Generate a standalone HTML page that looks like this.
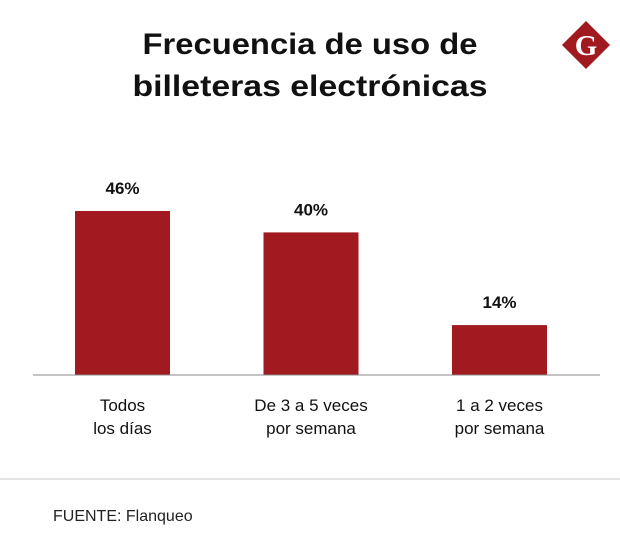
<!DOCTYPE html>
<html><head><meta charset="utf-8"><style>
body{margin:0;background:#fff;width:620px;height:551px;overflow:hidden;font-family:"Liberation Sans",sans-serif}
</style></head><body>
<svg width="620" height="551">
<text x="310" y="54" text-anchor="middle" font-size="30" font-weight="bold" fill="#111" textLength="335" lengthAdjust="spacingAndGlyphs">Frecuencia de uso de</text>
<text x="310" y="96" text-anchor="middle" font-size="30" font-weight="bold" fill="#111" textLength="355" lengthAdjust="spacingAndGlyphs">billeteras electrónicas</text>
<g>
<rect x="569" y="28" width="34" height="34" fill="#a11a1f" transform="rotate(45 586 45)"/>
<text x="586" y="55" text-anchor="middle" font-family="Liberation Serif,serif" font-size="29" font-weight="bold" fill="#fff">G</text>
</g>
<g id="bars"></g>
<line x1="33" y1="375" x2="600" y2="375" stroke="#888" stroke-width="1"/>
<line x1="0" y1="479" x2="620" y2="479" stroke="#e4e4e4" stroke-width="2"/>
<text x="53" y="521" font-size="16" fill="#222">FUENTE: Flanqueo</text>
</svg>
<script>
const categories=[["Todos","los días"],["De 3 a 5 veces","por semana"],["1 a 2 veces","por semana"]];
const values=[46,40,14];
const labels=["46%","40%","14%"];
const g=document.getElementById('bars');
const ns="http://www.w3.org/2000/svg";
const base=375,scale=3.565,bw=95;
function xc(i){return 122.5+i*188.5;}
function y(v){return base-v*scale;}
values.forEach((v,i)=>{
 const r=document.createElementNS(ns,'rect');
 r.setAttribute('x',xc(i)-bw/2);r.setAttribute('y',y(v));r.setAttribute('width',bw);r.setAttribute('height',base-y(v));r.setAttribute('fill','#a11a1f');
 
 
 g.appendChild(r);
 const t=document.createElementNS(ns,'text');
 t.setAttribute('x',xc(i));t.setAttribute('y',y(v)-17);t.setAttribute('text-anchor','middle');t.setAttribute('font-size','17');t.setAttribute('font-weight','bold');t.setAttribute('fill','#111');
 t.textContent=labels[i];
 
 
 g.appendChild(t);
 categories[i].forEach((line,j)=>{
  const c=document.createElementNS(ns,'text');
  c.setAttribute('x',xc(i));c.setAttribute('y',411+j*23);c.setAttribute('text-anchor','middle');c.setAttribute('font-size','17');c.setAttribute('fill','#111');
  c.textContent=line;
  
  
  g.appendChild(c);
 });
});
</script>
</body></html>
